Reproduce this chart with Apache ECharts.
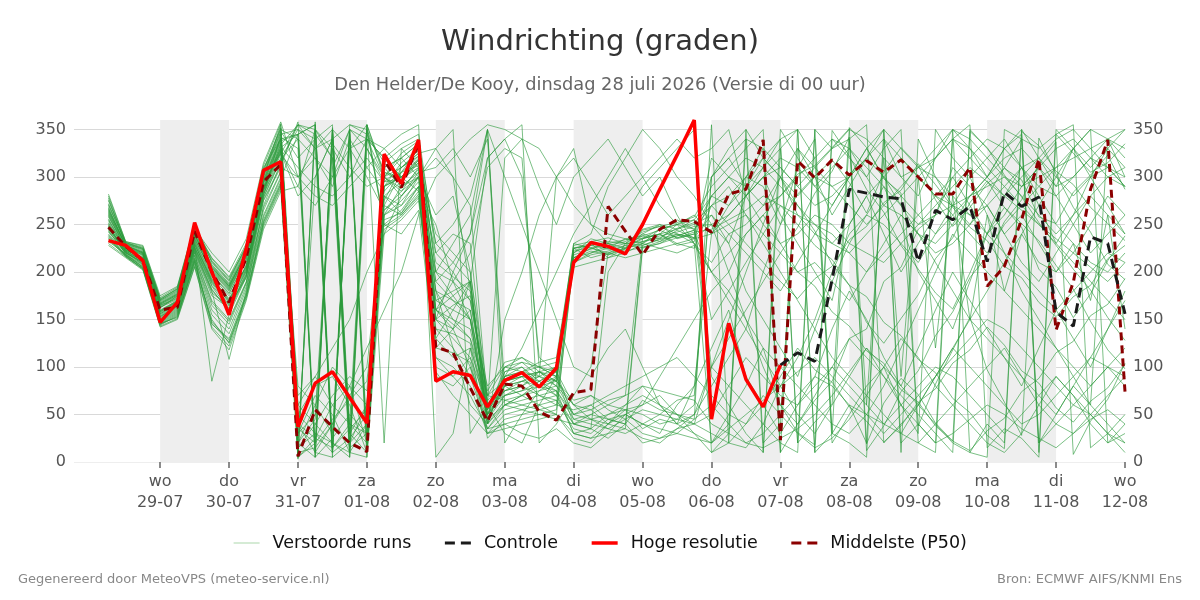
<!DOCTYPE html>
<html>
<head>
<meta charset="utf-8">
<script src="https://cdn.jsdelivr.net/npm/echarts@6/dist/echarts.min.js"></script>
<style>html,body{margin:0;padding:0;background:#fff}#c{width:1200px;height:600px}</style>
</head>
<body>
<div id="c"></div>
<script>
// hours relative to wo 29-07 00:00, 6-hourly from 28-07 06:00
const startHour = -18;
const stepHours = 6;
const weekdays = ['wo','do','vr','za','zo','ma','di','wo','do','vr','za','zo','ma','di','wo'];
const dates = ['29-07','30-07','31-07','01-08','02-08','03-08','04-08','05-08','06-08','07-08','08-08','09-08','10-08','11-08','12-08'];
const tickHours = [0,24,48,72,96,120,144,168,192,216,240,264,288,312,336];
const shadedDays = [[0,24],[48,72],[96,120],[144,168],[192,216],[240,264],[288,312]];
const yTicks = [0,50,100,150,200,250,300,350];

const hogeResolutie = [233,228,212,147,168,252,200,155,225,307,316, 37,83,95,68,41, 324,293,339, 85,95,91, 58, 86,94,79,99, 210,231,227,219, 250,287,323,360, 45,146,87,58,102];
const controle = [null,null,null,null,null,null,null,null,null,null,null,null,null,null,null,null,null,null,null,null,null,null,null,null,null,null,null,null,null,null,null,null,null,null,null,null,null,null,null,
  102,115,106,192,287,283,279,277,211,265,255,269,211,284,269,279,158,143,237,230,156];
const middelste = [247,227,212,160,163,243,200,168,215,295,313, 6,55,37,20,11, 318,289,336, 121,115,78, 43, 82,80,53,44, 73,76,269,243, 218,245,255,253, 242,282,287,339,23, 317,299,318,302,317,305,318,300,282,282, 310,185,206,255,319,139,189,287,339,74];

const m01 = [262,228,220,165,172,232,195,175,205,290,330, 20,45,310,350,30, 290,300,320, 150,130,110, 60, 85,90,70,60, 55,60,45,50, 40,30,60,80, 240,270,300,290,250, 282,301,318,294,262,305,331,312,276,248, 268,293,309,297,258,251,284,302,323,287];
const m02 = [245,222,212,155,165,225,185,160,200,280,345, 350,340,15,40,355, 300,285,310, 180,170,160, 45, 70,80,95,85, 220,230,225,235, 235,240,245,250, 260,230,280,310,340, 20,42,61,352,331,298,283,38,82,118, 152,97,63,28,341,303,268,242,208,192];
const m03 = [270,230,225,170,180,240,200,180,215,300,355, 5,25,60,80,20, 280,270,300, 120,140,100, 50, 90,100,80,70, 40,35,50,60, 70,60,40,30, 20,50,80,120,60, 31,18,349,322,287,263,228,203,178,161, 199,241,268,251,233,207,182,148,118,98];
const m04 = [250,218,208,150,160,218,170,150,190,275,310, 300,330,350,10,40, 310,320,335, 200,190,170, 70, 100,110,95,80, 225,230,215,220, 245,250,235,240, 300,320,290,270,280, 303,312,331,351,19,62,88,71,41,22, 348,331,302,279,252,228,203,181,152,128];
const m05 = [282,232,228,175,185,250,210,190,225,310,340, 50,80,90,60,10, 260,290,305, 310,330,300, 340, 80,70,60,50, 30,25,40,35, 225,230,240,235, 250,200,150,100,60, 40,65,85,130,140,190,205,245,260,310, 290,270,240,260,230,200,220,250,280,260];
const m06 = [258,226,218,162,175,238,205,185,220,295,325, 355,345,320,30,60, 290,315,330, 160,150,140, 55, 75,85,90,100, 215,225,230,220, 230,240,255,245, 90,60,30,10,350, 320,290,310,330,300,270,260,240,230,250, 280,300,330,350,20,40,60,50,30,10];
const m07 = [240,220,210,148,158,215,160,140,185,260,300, 10,15,40,70,100, 270,260,280, 140,120,90, 35, 60,65,70,75, 50,45,40,55, 60,70,50,40, 30,20,15,40,80, 110,150,200,240,260,250,230,210,240,270, 300,320,340,310,280,250,230,210,200,220];
const m08 = [265,229,222,168,178,244,215,195,230,305,350, 340,320,300,350,15, 320,300,315, 170,180,190, 40, 95,105,100,90, 220,235,230,225, 240,235,250,245, 270,290,260,230,200, 170,140,110,90,70,50,30,20,40,60, 80,100,120,90,60,40,30,50,70,90];
const m09 = [255,224,214,158,168,228,85,155,195,285,335, 25,300,340,20,350, 305,295,318, 190,210,240, 320, 340,300,110,95, 60,70,55,45, 30,25,35,50, 80,110,140,200,250, 310,340,20,50,80,100,60,30,350,320, 300,260,220,180,150,120,90,60,40,20];
const m10 = [248,221,210,152,162,222,180,108,180,270,315, 355,350,330,300,340, 330,310,325, 210,195,180, 65, 80,90,85,70, 210,220,225,230, 228,235,240,230, 210,240,250,270,300, 260,240,230,250,280,300,320,300,280,260, 240,220,250,270,290,310,330,350,340,320];
const m11 = [232,219,205,145,155,210,150,125,175,250,290, 40,10,5,355,350, 250,265,290, 110,100,80, 30, 50,55,60,65, 35,30,45,40, 20,25,30,45, 60,40,20,30,50, 70,90,80,60,50,40,30,60,90,120, 100,80,60,40,50,70,90,110,100,80];
const m12 = [275,231,226,172,182,246,220,200,235,315,358, 300,280,270,290,310, 285,305,312, 240,220,200, 75, 105,110,100,95, 45,50,60,70, 235,245,250,255, 280,300,320,310,290, 270,250,230,220,240,260,280,300,320,340, 330,310,290,270,250,230,210,190,170,150];
const m13 = [236,216,204,146,152,212,145,130,178,255,295, 15,30,20,10,5, 240,255,275, 130,110,120, 25, 45,50,55,60, 225,215,220,215, 220,225,230,235, 240,250,260,240,220, 200,185,158,143,117,104,76,63,38,22, 12,33,46,74,88,115,127,154,166,193];
const m14 = [268,227,219,166,176,236,198,178,212,298,342, 330,10,350,40,20, 275,310,328, 150,200,170, 60, 70,75,80,85, 65,70,60,55, 50,40,45,60, 300,330,350,20,40, 330,300,260,290,320,350,10,340,300,270, 250,280,310,340,20,50,80,60,340,300];
const m15 = [252,223,216,160,170,230,190,168,208,288,328, 20,60,100,80,60, 300,280,305, 100,90,110, 40, 90,95,105,110, 225,228,232,230, 232,238,242,248, 250,260,280,300,310, 290,270,280,300,320,300,280,260,240,260, 280,300,320,330,310,290,300,320,340,330];
const m16 = [242,221,208,151,161,220,175,162,198,282,320, 350,330,340,355,345, 315,330,340, 200,230,260, 350, 60,70,85,95, 205,210,215,225, 230,225,220,228, 200,180,150,120,100, 80,60,40,30,50,80,120,160,200,240, 220,200,180,160,140,120,100,80,100,120];
const m17 = [278,229,224,171,183,248,212,192,228,308,352, 5,355,10,350,15, 265,280,300, 320,300,180, 55, 95,100,85,75, 30,35,25,40, 65,55,50,45, 355,20,340,10,330, 20,350,30,340,60,320,90,300,120,280, 150,260,180,240,210,200,230,170,260,140];
const m18 = [238,217,206,147,157,214,165,145,188,265,305, 70,90,60,40,30, 260,275,295, 170,160,150, 50, 80,85,95,90, 215,220,228,232, 242,248,252,258, 290,310,330,350,10, 40,70,100,130,110,90,70,50,30,10, 350,330,310,290,300,310,320,330,340,350];
const m19 = [260,225,217,163,173,234,202,182,218,293,338, 345,5,25,350,330, 295,298,310, 140,135,125, 45, 85,90,95,100, 230,225,220,228, 238,232,244,236, 260,240,220,200,180, 210,240,270,300,330,300,270,240,210,180, 150,180,210,240,270,300,330,300,270,240];
const m20 = [246,220,211,154,164,224,182,158,196,278,318, 30,50,330,20,40, 310,290,300, 260,280,200, 60, 75,80,70,65, 40,45,50,55, 35,45,40,50, 100,130,160,190,220, 247,283,306,342,12,38,74,96,133,158, 194,217,253,276,314,337,8,43,66,104];
const m21 = [228,215,202,142,150,205,140,118,170,245,285, 290,350,320,5,330, 300,325,338, 180,150,130, 70, 65,60,55,50, 215,222,218,226, 236,240,228,232, 320,300,280,250,230, 240,260,250,230,220,210,230,250,270,290, 310,295,280,265,250,235,220,205,190,210];
const m22 = [264,228,221,167,177,242,208,188,223,300,345, 35,20,45,65,85, 255,262,285, 200,175,150, 80, 100,105,90,80, 60,55,65,70, 80,75,70,65, 40,30,20,15,25, 35,50,70,95,120,90,60,40,20,30, 45,60,50,35,25,15,30,45,55,40];
const m23 = [256,224,215,159,169,229,192,170,207,287,332, 310,290,280,300,320, 295,310,322, 230,250,280, 350, 20,50,75,88, 228,232,236,230, 244,248,240,236, 280,270,290,320,300, 280,300,290,270,250,270,290,310,300,280, 260,270,290,310,320,300,280,300,310,290];
const m24 = [244,219,209,153,163,221,178,164,194,276,312, 358,5,352,30,10, 280,295,315, 160,175,190, 45, 80,85,80,75, 45,40,35,45, 55,50,45,40, 50,80,110,90,70, 60,80,100,80,60,40,60,80,100,90, 70,50,30,50,70,90,70,50,30,50];
const m25 = [272,230,223,169,179,245,207,187,222,303,348, 320,340,355,15,30, 270,305,330, 90,80,100, 30, 40,45,50,55, 210,218,222,228, 226,230,236,242, 245,255,265,280,270, 250,228,213,186,174,147,133,108,94,67, 52,28,14,348,333,306,292,268,251,233];
const m26 = [234,217,203,144,154,208,148,128,176,252,292, 60,40,20,5,350, 248,260,282, 120,115,105, 35, 55,60,65,70, 30,25,30,35, 25,20,35,40, 100,150,200,250,300, 330,310,290,300,320,340,320,300,280,300, 320,340,330,310,290,280,300,320,310,290];
const m27 = [266,228,220,166,176,240,204,184,220,296,340, 345,355,10,25,50, 300,288,308, 150,140,160, 50, 70,75,85,95, 218,224,230,234, 238,244,236,240, 200,220,240,260,280, 300,320,340,330,310,290,270,250,260,270, 280,290,300,280,260,240,260,280,300,310];
const m28 = [230,216,203,143,151,206,142,122,172,248,288, 3,358,15,340,25, 245,258,278, 160,190,220, 310, 330,320,100,90, 50,55,40,50, 40,35,30,25, 20,35,50,65,80, 95,110,90,70,50,30,50,70,90,110, 130,150,140,120,100,80,60,80,100,90];
const m29 = [280,232,227,173,184,249,214,194,226,312,356, 50,30,10,350,340, 320,335,345, 220,240,230, 55, 90,95,100,105, 222,226,218,224, 232,236,246,252, 270,280,300,320,340, 350,10,30,20,5,350,330,310,320,340, 355,15,35,25,5,345,325,305,315,335];
const m30 = [248,222,213,157,167,226,188,166,202,284,326, 280,300,340,10,355, 305,300,318, 190,170,150, 40, 60,70,80,90, 40,50,45,40, 228,234,238,244, 150,180,210,240,270, 260,250,240,220,200,220,240,260,280,270, 260,240,220,200,180,160,180,200,220,210];
const m31 = [254,223,215,159,170,231,193,172,206,289,331, 345,20,350,30,340, 300,310,325, 330,350,30, 60, 320,340,290,250, 300,320,340,310, 280,300,260,230, 20,40,300,330,10, 350,320,30,60,20,340,300,280,320,350, 10,40,20,350,320,290,330,350,20,40];
const m32 = [239,218,207,149,159,217,168,148,189,268,306, 80,60,30,330,300, 265,285,300, 180,120,60, 40, 150,200,260,300, 320,290,260,280, 300,320,340,320, 330,350,280,300,260, 230,200,170,250,280,240,200,230,260,300, 270,240,260,290,310,280,250,220,240,260];
const m33 = [261,226,219,164,174,235,201,181,216,294,336, 10,350,5,20,60, 310,320,300, 220,200,240, 350, 300,250,200,150, 100,90,120,140, 100,60,40,80, 120,160,90,60,30, 60,90,140,180,150,110,80,120,160,200, 170,140,110,80,120,160,130,100,140,180];
const m34 = [247,221,212,156,166,226,186,165,201,282,324, 300,320,290,340,310, 330,345,355, 5,30,120, 60, 30,20,60,90, 230,240,290,320, 350,330,300,280, 250,230,180,150,120, 90,140,190,230,260,290,250,200,170,140, 190,240,280,310,270,230,260,300,330,310];
const m35 = [271,231,224,170,181,242,205,185,221,302,347, 30,70,50,10,355, 250,240,265, 110,90,70, 35, 40,30,25,35, 20,15,30,50, 60,90,120,150, 180,200,240,260,230, 200,210,190,170,200,230,260,240,220,230, 250,270,240,210,190,220,250,280,260,240];
const m36 = [243,220,210,153,164,223,181,160,197,279,319, 340,10,40,80,120, 160,200,260, 300,320,340, 355, 350,340,330,300, 270,250,230,260, 290,310,330,350, 10,20,40,70,50, 30,15,25,45,70,100,130,110,80,60, 40,20,10,30,60,90,70,40,20,30];
const m37 = [259,225,218,163,171,233,197,177,213,291,334, 355,330,10,345,5, 290,300,318, 160,145,130, 50, 75,80,90,300, 330,250,240,235, 230,245,250,260, 240,260,280,300,320, 310,290,270,300,330,350,20,40,20,350, 330,300,280,300,320,340,350,330,310,300];
const m38 = [235,217,204,145,153,211,146,126,174,253,293, 20,5,350,330,340, 320,300,285, 250,190,150, 45, 60,55,50,45, 40,35,200,230, 240,250,245,255, 100,80,60,40,20, 10,350,330,340,355,20,40,60,40,20, 10,5,350,340,330,345,355,15,30,20];
const m39 = [267,228,221,167,177,239,206,186,219,297,341, 60,90,120,150,200, 240,280,300, 330,300,270, 60, 90,120,160,200, 240,270,300,330, 300,270,250,230, 200,170,140,110,80, 50,30,60,90,120,100,80,60,90,120, 150,130,110,90,70,50,80,110,140,170];
const m40 = [249,222,212,156,167,227,189,169,203,286,327, 290,270,300,330,355, 20,330,310, 150,165,175, 70, 85,90,95,85, 60,45,35,30, 40,50,65,70, 300,320,340,330,310, 290,310,330,350,340,320,300,310,330,350, 340,320,300,290,310,330,340,320,300,290];
const m41 = [276,231,225,171,182,247,211,191,227,307,351, 15,40,70,90,75, 280,262,290, 95,70,50, 30, 35,40,45,50, 25,20,40,60, 80,60,50,30, 10,30,350,320,300, 270,243,208,186,147,125,151,176,214,236, 273,296,268,247,203,184,152,177,212,238];
const m42 = [237,218,205,146,156,213,155,135,182,258,298, 345,355,25,50,30, 260,270,290, 130,160,190, 320, 340,355,20,40, 70,100,220,225, 235,240,230,225, 270,250,230,210,190, 172,193,206,234,248,273,286,314,292,268, 247,233,206,194,168,153,174,186,214,228];
const m43 = [263,227,220,165,175,237,203,183,217,295,339, 5,20,335,310,290, 300,320,335, 230,210,190, 50, 100,95,90,85, 225,228,224,222, 226,232,238,244, 280,300,290,310,330, 350,10,340,320,300,330,350,20,10,340, 320,300,330,345,10,350,330,310,330,350];
const m44 = [251,223,214,158,169,229,191,171,204,287,329, 40,25,15,35,55, 290,305,322, 160,140,190, 40, 65,70,75,80, 50,60,70,80, 90,100,110,90, 70,50,40,60,90, 120,97,84,58,43,21,38,63,77,104, 118,142,123,96,83,57,42,64,78,103];

const members = [m01,m02,m03,m04,m05,m06,m07,m08,m09,m10,m11,m12,m13,m14,m15,m16,m17,m18,m19,m20,m21,m22,
  m23,m24,m25,m26,m27,m28,m29,m30,m31,m32,m33,m34,m35,m36,m37,m38,m39,m40,m41,m42,m43,m44];

const FONT = 'DejaVu Sans';
function pairs(vals){ return vals.map((v,i)=>[startHour + stepHours*i, v]); }

const series = [];
series.push({
  type:'line', name:'_bands', data: pairs(middelste), showSymbol:false, silent:true,
  lineStyle:{opacity:0}, z:1, animation:false,
  markArea:{silent:true, itemStyle:{color:'#eeeeee'}, data: shadedDays.map(d=>[{xAxis:d[0]},{xAxis:d[1]}])}
});
members.forEach(m=>{
  series.push({type:'line', name:'Verstoorde runs', data:pairs(m), showSymbol:false, symbol:'none',
    lineStyle:{color:'#2a9a3a', width:1, opacity:0.62}, itemStyle:{color:'#2a9a3a'}, z:2, animation:false, silent:true});
});
series.push({type:'line', name:'Middelste (P50)', data:pairs(middelste), symbol:'none',
  lineStyle:{color:'#8b0000', width:3, type:[8,5]}, itemStyle:{color:'#8b0000'}, z:4, animation:false});
series.push({type:'line', name:'Controle', data:pairs(controle), symbol:'none', connectNulls:false,
  lineStyle:{color:'#1a1a1a', width:3, type:[10,6]}, itemStyle:{color:'#1a1a1a'}, z:5, animation:false});
series.push({type:'line', name:'Hoge resolutie', data:pairs(hogeResolutie), symbol:'none',
  lineStyle:{color:'#ff0000', width:3.5}, itemStyle:{color:'#ff0000'}, z:6, animation:false});

const chart = echarts.init(document.getElementById('c'), null, {renderer:'canvas'});
chart.setOption({
  backgroundColor:'#ffffff',
  animation:false,
  textStyle:{fontFamily:FONT},
  title:[
    {text:'Windrichting (graden)', left:'center', top:23, textStyle:{fontFamily:FONT, fontSize:29, fontWeight:'normal', color:'#333333'}},
    {text:'Den Helder/De Kooy, dinsdag 28 juli 2026 (Versie di 00 uur)', left:'center', top:71, textStyle:{fontFamily:FONT, fontSize:17.8, fontWeight:'normal', color:'#666666'}},
    {text:'Gegenereerd door MeteoVPS (meteo-service.nl)', left:18, top:573, padding:0, textStyle:{fontFamily:FONT, fontSize:13, fontWeight:'normal', color:'#888888'}},
    {text:'Bron: ECMWF AIFS/KNMI Ens', right:18, top:573, padding:0, textStyle:{fontFamily:FONT, fontSize:13, fontWeight:'normal', color:'#888888'}}
  ],
  legend:{
    top:529, left:'center', itemWidth:26, itemHeight:14, itemGap:32,
    itemStyle:{opacity:0},
    textStyle:{fontFamily:FONT, fontSize:17.5, color:'#111111', padding:[0,0,0,8]},
    data:[
      {name:'Verstoorde runs', lineStyle:{width:1, color:'#77c077'}, itemStyle:{opacity:0}},
      {name:'Controle', lineStyle:{width:3, type:[10,6]}, itemStyle:{opacity:0}},
      {name:'Hoge resolutie', lineStyle:{width:3.5}, itemStyle:{opacity:0}},
      {name:'Middelste (P50)', lineStyle:{width:3, type:[10,6]}, itemStyle:{opacity:0}}
    ]
  },
  grid:{left:74, right:75, top:120, bottom:138, containLabel:false},
  xAxis:{
    type:'value', min:-30, max:336,
    axisLine:{show:false},
    axisTick:{show:true, customValues:tickHours, length:6, lineStyle:{color:'#666666', width:1.5}},
    axisLabel:{customValues:tickHours, margin:9, fontFamily:FONT, fontSize:16, color:'#555555', lineHeight:21,
      formatter:function(v){ const i = Math.round(v/24); return weekdays[i] + '\n' + dates[i]; }},
    splitLine:{show:false}
  },
  yAxis:[
    {type:'value', min:0, max:360, interval:50, position:'left',
      axisLine:{show:false}, axisTick:{show:false},
      axisLabel:{customValues:yTicks, margin:8, fontFamily:FONT, fontSize:16, color:'#555555'},
      splitLine:{show:true, lineStyle:{width:1, color:['#eeeeee','#d9d9d9','#d9d9d9','#d9d9d9','#d9d9d9','#d9d9d9','#d9d9d9','#d9d9d9','rgba(0,0,0,0)']}}},
    {type:'value', min:0, max:360, interval:50, position:'right',
      axisLine:{show:false}, axisTick:{show:false},
      axisLabel:{customValues:yTicks, margin:8, fontFamily:FONT, fontSize:16, color:'#555555'},
      splitLine:{show:false}}
  ],
  series: series
});
</script>
</body>
</html>
